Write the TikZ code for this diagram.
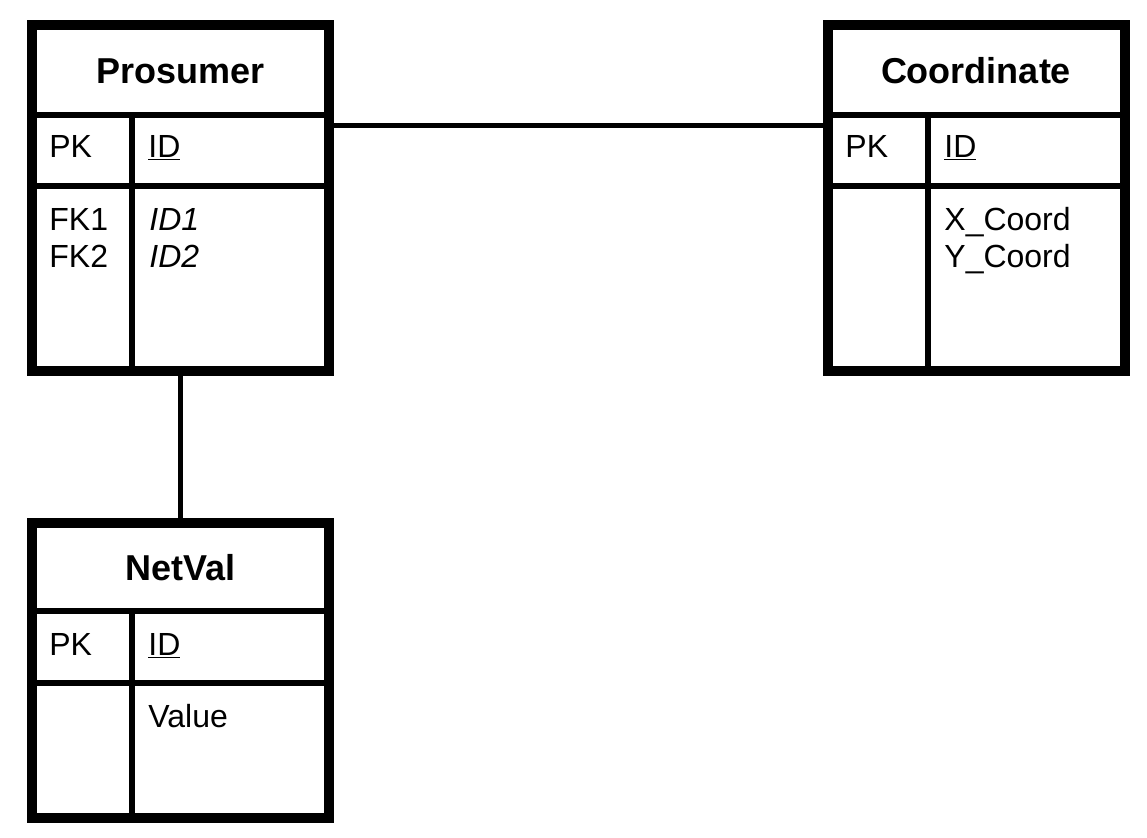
\documentclass[tikz,border=0pt]{standalone}
\usepackage{fontspec}
\setmainfont{Liberation Sans}

\begin{document}
\begin{tikzpicture}[x=0.5pt, y=-0.5pt,
        tbl/.style={draw, line width=5pt, minimum width=148.5pt, outer sep=0pt, inner sep=0pt},
        sep/.style={line width=3pt},
        link/.style={line width=2.5pt},
        title/.style={font=\fontsize{18}{21}\selectfont\bfseries, anchor=base, inner sep=0pt},
        txt/.style={font=\fontsize{16}{18.5}\selectfont, anchor=base west, inner sep=0pt, align=left}]
    \useasboundingbox (0,0) rectangle (1147,837);

    % tables
    \node[tbl, minimum height=173pt] (pro) at (180.5,198) {};
    \node[tbl, minimum height=173pt] (coo) at (976,198) {};
    \node[tbl, minimum height=147.5pt] (net) at (180.5,670.5) {};

    \draw[sep] ([yshift=-45pt]pro.north west) -- ([yshift=-45pt]pro.north east);
    \draw[sep] ([yshift=-80.5pt]pro.north west) -- ([yshift=-80.5pt]pro.north east);
    \draw[sep] ([xshift=50pt,yshift=-45pt]pro.north west) -- ([xshift=50pt]pro.south west);

    \draw[sep] ([yshift=-45pt]coo.north west) -- ([yshift=-45pt]coo.north east);
    \draw[sep] ([yshift=-80.5pt]coo.north west) -- ([yshift=-80.5pt]coo.north east);
    \draw[sep] ([xshift=50pt,yshift=-45pt]coo.north west) -- ([xshift=50pt]coo.south west);

    \draw[sep] ([yshift=-44pt]net.north west) -- ([yshift=-44pt]net.north east);
    \draw[sep] ([yshift=-80pt]net.north west) -- ([yshift=-80pt]net.north east);
    \draw[sep] ([xshift=50pt,yshift=-44pt]net.north west) -- ([xshift=50pt]net.south west);

    % links
    \draw[link] ([yshift=-50pt]pro.north east) -- ([yshift=-50pt]coo.north west);
    \draw[link] (pro.south) -- (net.north);

    % texts (two-line nodes sit on their last baseline)
    \node[title] (pro-title) at (180.5,83) {Prosumer};
    \node[txt] (pro-pk) at (49,157) {PK};
    \node[txt] (pro-id) at (148,157) {\underline{ID}};
    \node[txt] (pro-fk) at (49,267) {FK1\\FK2};
    \node[txt] (pro-attr) at (149,267) {\textit{ID1}\\\textit{ID2}};

    \node[title] (coo-title) at (976,83) {Coordinate};
    \node[txt] (coo-pk) at (845,157) {PK};
    \node[txt] (coo-id) at (944,157) {\underline{ID}};
    \node[txt] (coo-attr) at (944,267) {X\_Coord\\Y\_Coord};

    \node[title] (net-title) at (180.5,580) {NetVal};
    \node[txt] (net-pk) at (49,655) {PK};
    \node[txt] (net-id) at (148,655) {\underline{ID}};
    \node[txt] (net-attr) at (148,727) {Value};
\end{tikzpicture}
\end{document}
